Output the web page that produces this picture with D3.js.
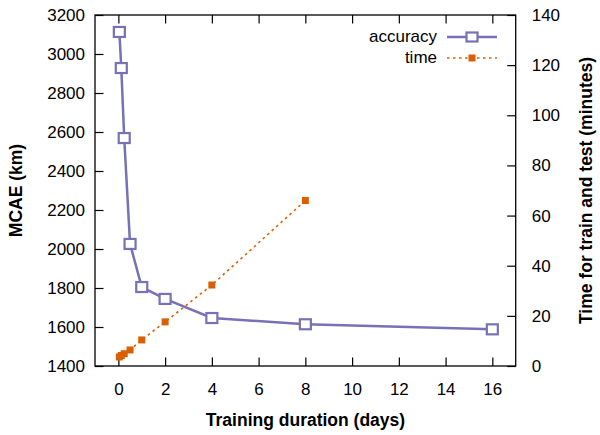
<!DOCTYPE html>
<html>
<head>
<meta charset="utf-8">
<script src="https://cdn.jsdelivr.net/npm/d3@7"></script>
<style>
  body { margin: 0; background: #fff; }
  svg text { font-family: "Liberation Sans", Arial, Helvetica, sans-serif; fill: #000; }
</style>
</head>
<body>
<svg id="chart" width="600" height="435"></svg>
<script>
// ---- data ----
const accuracyDays = [0.042, 0.125, 0.25, 0.5, 1, 2, 4, 8, 16];
const accuracyMCAE = [3113, 2928, 2569, 2026, 1805, 1744, 1646, 1614, 1588];
const timeDays = [0.042, 0.125, 0.25, 0.5, 1, 2, 4, 8];
const timeMinutes = [3.6, 4.2, 4.9, 6.4, 10.4, 17.6, 32.3, 66.0];
const xTicks = [0, 2, 4, 6, 8, 10, 12, 14, 16];
const yTicks = [1400, 1600, 1800, 2000, 2200, 2400, 2600, 2800, 3000, 3200];
const y2Ticks = [0, 20, 40, 60, 80, 100, 120, 140];
const seriesNames = ["accuracy", "time"];

const purple = "#7771b6";
const orange = "#d95f02";
const L = 95, R = 515.7, T = 15, B = 366;
const svg = d3.select("#chart");

const x = d3.scaleLinear().domain([-1, 17]).range([L, R]);
const y = d3.scaleLinear().domain([1400, 3200]).range([B, T]);
const y2 = d3.scaleLinear().domain([0, 140]).range([B, T]);

const fs = "17px";
const tfs = "17.5px";
const fmt = d3.format("d");
function styleAxis(g) {
  g.select(".domain").remove();
  g.selectAll(".tick line").attr("stroke", "#000").attr("stroke-width", 1.2);
  g.selectAll(".tick text").style("font-size", fs);
}

svg.append("g").attr("transform", `translate(0,${B})`)
  .call(d3.axisBottom(x).tickValues(xTicks).tickFormat(fmt).tickSize(-8.5).tickPadding(16.5).tickSizeOuter(0))
  .call(styleAxis);
svg.append("g").attr("transform", `translate(0,${T})`)
  .call(d3.axisTop(x).tickValues(xTicks).tickSize(-8.5).tickFormat("").tickSizeOuter(0))
  .call(styleAxis);
svg.append("g").attr("transform", `translate(${L},0)`)
  .call(d3.axisLeft(y).tickValues(yTicks).tickFormat(fmt).tickSize(-8.5).tickPadding(10).tickSizeOuter(0))
  .call(styleAxis);
svg.append("g").attr("transform", `translate(${R},0)`)
  .call(d3.axisRight(y2).tickValues(y2Ticks).tickFormat(fmt).tickSize(-8.5).tickPadding(16).tickSizeOuter(0))
  .call(styleAxis);

svg.append("rect").attr("x", L).attr("y", T).attr("width", R - L).attr("height", B - T)
  .attr("fill", "none").attr("stroke", "#000").attr("stroke-width", 1.3);

// axis titles
svg.append("text").attr("x", 305.5).attr("y", 426).attr("text-anchor", "middle")
  .style("font-size", tfs).style("font-weight", "bold").text("Training duration (days)");
svg.append("text").attr("transform", `translate(21.5,${(T + B) / 2}) rotate(-90)`)
  .attr("text-anchor", "middle").style("font-size", tfs).style("font-weight", "bold").text("MCAE (km)");
svg.append("text").attr("transform", `translate(592,${(T + B) / 2}) rotate(-90)`)
  .attr("text-anchor", "middle").style("font-size", tfs).style("font-weight", "bold")
  .text("Time for train and test (minutes)");

// time series
const timeData = timeDays.map((d, i) => [d, timeMinutes[i]]);
svg.append("path").datum(timeData)
  .attr("fill", "none").attr("stroke", orange).attr("stroke-width", 1.6)
  .attr("stroke-dasharray", "2.5,3.5")
  .attr("d", d3.line().x(d => x(d[0])).y(d => y2(d[1])));
svg.selectAll(".tpt").data(timeData).enter().append("rect")
  .attr("x", d => x(d[0]) - 3.5).attr("y", d => y2(d[1]) - 3.5)
  .attr("width", 7).attr("height", 7).attr("fill", orange);

// accuracy series
const accData = accuracyDays.map((d, i) => [d, accuracyMCAE[i]]);
svg.append("path").datum(accData)
  .attr("fill", "none").attr("stroke", purple).attr("stroke-width", 2.5)
  .attr("d", d3.line().x(d => x(d[0])).y(d => y(d[1])));
svg.selectAll(".apt").data(accData).enter().append("rect")
  .attr("x", d => x(d[0]) - 5.5).attr("y", d => y(d[1]) - 5)
  .attr("width", 11).attr("height", 10)
  .attr("fill", "#fff").attr("stroke", purple).attr("stroke-width", 2.2);

// legend
svg.append("text").attr("x", 437).attr("y", 41.5).attr("text-anchor", "end").style("font-size", fs).text(seriesNames[0]);
svg.append("text").attr("x", 437).attr("y", 63).attr("text-anchor", "end").style("font-size", fs).text(seriesNames[1]);
svg.append("line").attr("x1", 447).attr("x2", 497).attr("y1", 37).attr("y2", 37)
  .attr("stroke", purple).attr("stroke-width", 2.5);
svg.append("rect").attr("x", 472 - 5.5).attr("y", 37 - 4.5).attr("width", 11).attr("height", 9)
  .attr("fill", "#fff").attr("stroke", purple).attr("stroke-width", 2.2);
svg.append("line").attr("x1", 447).attr("x2", 497).attr("y1", 58).attr("y2", 58)
  .attr("stroke", orange).attr("stroke-width", 1.6).attr("stroke-dasharray", "2.5,3.5");
svg.append("rect").attr("x", 472 - 3.5).attr("y", 58 - 3.5).attr("width", 7).attr("height", 7).attr("fill", orange);
</script>
</body>
</html>
